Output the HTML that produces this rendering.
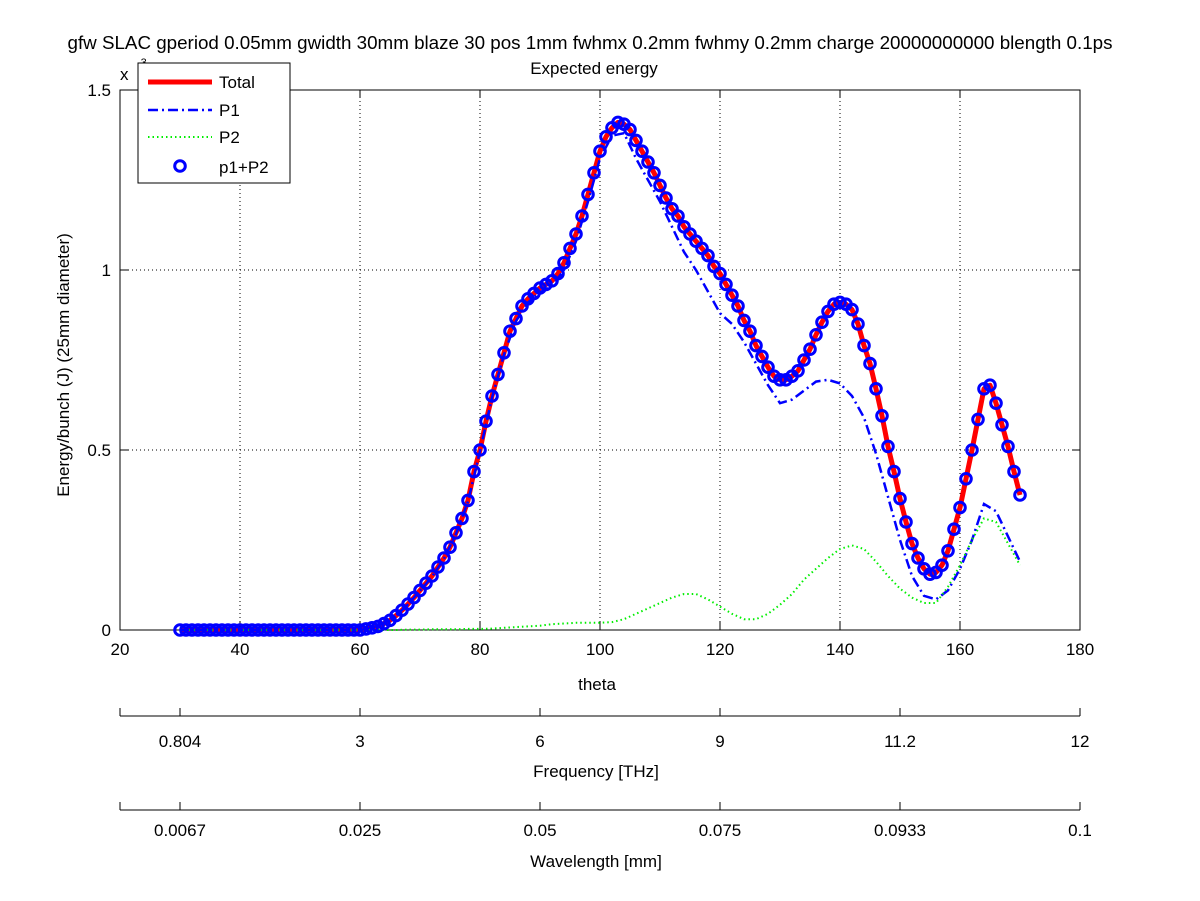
<!DOCTYPE html>
<html><head><meta charset="utf-8"><style>
body{margin:0;background:#fff;}
svg{display:block;font-family:"Liberation Sans",sans-serif;}
</style></head><body>
<svg id="chart" width="1200" height="901" xmlns="http://www.w3.org/2000/svg">
<text x="590" y="49" font-size="18.8" text-anchor="middle">gfw SLAC gperiod 0.05mm gwidth 30mm blaze 30 pos 1mm fwhmx 0.2mm fwhmy 0.2mm charge 20000000000 blength 0.1ps</text>
<text x="594" y="74" font-size="17" text-anchor="middle">Expected energy</text>
<g id="grid"></g>
<g id="axes"></g>
<g id="series"></g>
<g id="legend"></g>
</svg>
<script>
const xTicks=[20,40,60,80,100,120,140,160,180];
const yTicks=[0,0.5,1,1.5];
const yTickLabels=["0","0.5","1","1.5"];
const freqLabels=["0.804","3","6","9","11.2","12"];
const waveLabels=["0.0067","0.025","0.05","0.075","0.0933","0.1"];
const secTickTheta=[30,60,90,120,150,180];
const thetaTotal=[];for(let t=30;t<=170;t++)thetaTotal.push(t);
const total=[0,0,0,0,0,0,0,0,0,0,0,0,0,0,0,0,0,0,0,0,0,0,0,0,0,0,0,0,0,0,0,
0.003,0.006,0.01,0.018,0.027,0.04,0.055,0.072,0.09,0.11,0.13,0.15,0.175,0.2,0.23,0.27,0.31,0.36,0.44,0.5,
0.58,0.65,0.71,0.77,0.83,0.865,0.9,0.92,0.935,0.95,0.96,0.97,0.99,1.02,1.06,1.1,1.15,1.21,1.27,1.33,
1.37,1.395,1.41,1.405,1.39,1.36,1.33,1.3,1.27,1.235,1.2,1.17,1.15,1.12,1.1,1.08,1.06,1.04,1.01,0.99,
0.96,0.93,0.9,0.86,0.83,0.79,0.76,0.73,0.705,0.695,0.695,0.705,0.72,0.75,0.78,0.82,0.855,0.885,0.905,0.91,
0.905,0.89,0.85,0.79,0.74,0.67,0.595,0.51,0.44,0.365,0.3,0.24,0.2,0.17,0.155,0.16,0.18,0.22,0.28,0.34,
0.42,0.5,0.585,0.67,0.68,0.63,0.57,0.51,0.44,0.375];
const thetaParts=[];for(let t=30;t<=170;t+=2)thetaParts.push(t);
const p1=[0,0,0,0,0,0,0,0,0,0,0,0,0,0,0,0,
0.006,0.018,0.04,0.071,0.109,0.148,0.198,0.267,0.357,0.497,0.645,0.765,0.858,0.91,0.938,0.955,1.0,1.08,1.19,1.31,
1.373,1.38,1.31,1.25,1.19,1.12,1.05,1.0,0.94,0.88,0.85,0.8,0.74,0.68,0.63,0.64,0.665,0.69,0.695,0.685,
0.65,0.59,0.49,0.37,0.25,0.15,0.095,0.085,0.11,0.17,0.25,0.35,0.33,0.26,0.19];
const p2=[0,0,0,0,0,0,0,0,0,0,0,0,0,0,0,0,0,0,0,0.001,0.001,0.002,0.002,0.002,0.003,0.003,0.004,0.006,0.008,0.01,0.012,
0.016,0.018,0.02,0.02,0.02,0.022,0.03,0.045,0.06,0.075,0.09,0.1,0.1,0.085,0.065,0.045,0.03,0.03,0.045,0.07,
0.1,0.14,0.17,0.2,0.225,0.235,0.225,0.19,0.15,0.115,0.09,0.075,0.075,0.12,0.18,0.25,0.31,0.3,0.24,0.18];

const NS="http://www.w3.org/2000/svg";
const X0=120,X1=1080,Y0=630,Y1=90;
const xs=t=>X0+(t-20)/(180-20)*(X1-X0);
const ys=v=>Y0-(v/1.5)*(Y0-Y1);
function mk(tag,attrs,parent,txt){const e=document.createElementNS(NS,tag);for(const k in attrs)e.setAttribute(k,attrs[k]);if(txt!==undefined)e.textContent=txt;parent.appendChild(e);return e;}
const grid=document.getElementById('grid'),axes=document.getElementById('axes'),series=document.getElementById('series'),legend=document.getElementById('legend');
mk('rect',{x:X0,y:Y1,width:X1-X0,height:Y0-Y1,fill:'none',stroke:'#000','stroke-width':1},axes);
xTicks.forEach(t=>{const x=xs(t);
 if(t>20&&t<180){const g=mk('line',{x1:x,x2:x,y1:Y0,y2:Y1,stroke:'#000','stroke-dasharray':'1,3'},grid);}
 mk('line',{x1:x,x2:x,y1:Y0,y2:Y0-8,stroke:'#000'},axes);mk('line',{x1:x,x2:x,y1:Y1,y2:Y1+8,stroke:'#000'},axes);
 const l=mk('text',{x:x,y:655,'font-size':17,'text-anchor':'middle'},axes,String(t));
 
 });
yTicks.forEach((v,i)=>{const y=ys(v);
 if(v>0&&v<1.5){const g=mk('line',{x1:X0,x2:X1,y1:y,y2:y,stroke:'#000','stroke-dasharray':'1,3'},grid);}
 mk('line',{x1:X0,x2:X0+8,y1:y,y2:y,stroke:'#000'},axes);mk('line',{x1:X1,x2:X1-8,y1:y,y2:y,stroke:'#000'},axes);
 const l=mk('text',{x:111,y:y+6,'font-size':17,'text-anchor':'end'},axes,yTickLabels[i]);
 
 });
let e=mk('text',{x:120,y:80,'font-size':17},axes,'x');
mk('text',{x:137,y:66,'font-size':11},axes,'-3');
e=mk('text',{x:597,y:690,'font-size':17,'text-anchor':'middle'},axes,'theta');
e=mk('text',{x:0,y:0,'font-size':17,'text-anchor':'middle',transform:'translate(69,365) rotate(-90)'},axes,'Energy/bunch (J) (25mm diameter)');
function secAxis(yl,labels,title,name,off,toff){
 mk('line',{x1:X0,x2:X1,y1:yl,y2:yl,stroke:'#000'},axes);
 mk('line',{x1:X0,x2:X0,y1:yl,y2:yl-8,stroke:'#000'},axes);
 secTickTheta.forEach((t,i)=>{const x=xs(t);mk('line',{x1:x,x2:x,y1:yl,y2:yl-8,stroke:'#000'},axes);
  const l=mk('text',{x:x,y:yl+off,'font-size':17,'text-anchor':'middle'},axes,labels[i]);
  
  });
 const t=mk('text',{x:596,y:yl+toff,'font-size':17,'text-anchor':'middle'},axes,title);
 
 }
secAxis(716,freqLabels,'Frequency [THz]','frequency',31,61);
secAxis(810,waveLabels,'Wavelength [mm]','wavelength',26,57);
function path(xa,va){return xa.map((t,i)=>(i?'L':'M')+xs(t).toFixed(1)+','+ys(va[i]).toFixed(1)).join(' ');}
let p=mk('path',{d:path(thetaTotal,total),fill:'none',stroke:'#ff0000','stroke-width':5,'stroke-linejoin':'round'},series);

p=mk('path',{d:path(thetaParts,p1),fill:'none',stroke:'#0000ff','stroke-width':2.5,'stroke-dasharray':'10,4,2,4'},series);

p=mk('path',{d:path(thetaParts,p2),fill:'none',stroke:'#00ee00','stroke-width':2,'stroke-dasharray':'1.5,3'},series);

thetaTotal.forEach((t,i)=>{const c=mk('circle',{cx:xs(t),cy:ys(total[i]),r:5.3,fill:'none',stroke:'#0000ff','stroke-width':3},series);
 
 });
mk('rect',{x:138,y:63,width:152,height:120,fill:'#fff',stroke:'#000'},legend);
const ent=[['Total',82],['P1',110],['P2',137],['p1+P2',167]];
mk('line',{x1:148,x2:212,y1:82,y2:82,stroke:'#ff0000','stroke-width':5},legend);
mk('line',{x1:148,x2:212,y1:110,y2:110,stroke:'#0000ff','stroke-width':2.5,'stroke-dasharray':'10,4,2,4'},legend);
mk('line',{x1:148,x2:212,y1:137,y2:137,stroke:'#00ee00','stroke-width':2,'stroke-dasharray':'1.5,3'},legend);
mk('circle',{cx:180,cy:166,r:5.3,fill:'none',stroke:'#0000ff','stroke-width':3},legend);
ent.forEach(en=>{const t=mk('text',{x:219,y:en[1]+6,'font-size':17},legend,en[0]);
 
 });
</script>
</body></html>
